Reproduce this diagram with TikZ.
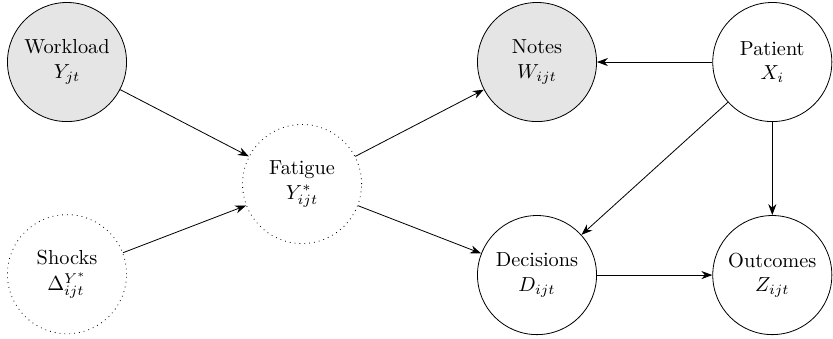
\documentclass[tikz,border=0pt]{standalone}
\usepackage{amsmath}
\usepackage{tikz}
\usetikzlibrary{arrows.meta}

\begin{document}
\begin{tikzpicture}[>={Stealth[length=1.9mm,width=1.4mm]}, thin,
    var/.style = {circle, draw, align=center, minimum size=2.06cm, inner sep=0pt},
    obs/.style = {var, fill=gray!20},
    lat/.style = {var, dotted}]
\useasboundingbox (-1.159,1.073) rectangle (13.25,-4.775);
\node[obs] (work) at (0,0) {Workload\\$Y_{jt}$};
\node[lat] (shock) at (0,-3.67) {Shocks\\[1pt]$\Delta^{Y^*}_{ijt}$};
\node[lat] (fat) at (4.066,-2.11) {Fatigue\\$Y^*_{ijt}$};
\node[obs] (notes) at (8.13,0) {Notes\\$W_{ijt}$};
\node[var] (dec) at (8.13,-3.685) {Decisions\\$D_{ijt}$};
\node[var] (pat) at (12.2,0) {Patient\\$X_i$};
\node[var] (out) at (12.2,-3.685) {Outcomes\\$Z_{ijt}$};
\draw[->] (work) -- (fat);
\draw[->] (shock) -- (fat);
\draw[->] (fat) -- (notes);
\draw[->] (fat) -- (dec);
\draw[->] (pat) -- (notes);
\draw[->] (pat) -- (dec);
\draw[->] (pat) -- (out);
\draw[->] (dec) -- (out);
\end{tikzpicture}
\end{document}
